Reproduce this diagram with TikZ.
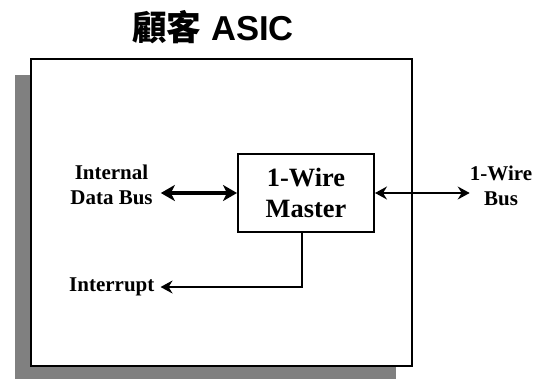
\documentclass[tikz,border=0pt]{standalone}
\usepackage{fontspec}
\setmainfont{Liberation Serif}
\newfontfamily\titlesans{Liberation Sans}
\newfontfamily\cjk{Noto Sans CJK TC}
\usepackage{xcolor}
\usepackage{tikz}
\usetikzlibrary{positioning, arrows.meta, calc, shadows}

\definecolor{shadowgray}{HTML}{808080}

\begin{document}
\begin{tikzpicture}[
        x=1pt, y=-1pt,
        >=Stealth, % Arrowhead style
        heading/.style={font=\fontsize{34.6}{40}\selectfont\bfseries\titlesans, inner sep=0pt},
        asic/.style={draw, line width=2pt, fill=white, minimum width=381pt, minimum height=307pt,
            drop shadow={shadow xshift=-16pt, shadow yshift=-16pt, fill=shadowgray, opacity=1}},
        master/.style={draw, line width=2pt, fill=white, minimum width=136pt, minimum height=78pt,
            align=center, font=\fontsize{26.4}{31}\selectfont\bfseries},
        signal/.style={align=center, inner sep=0pt, font=\fontsize{21}{25}\selectfont\bfseries},
        thin/.style={line width=1.6pt, arrows={-Stealth[length=12pt, width=13pt, inset=4pt]}},
        thinboth/.style={line width=1.6pt, arrows={Stealth[length=12pt, width=13pt, inset=4pt]-Stealth[length=12pt, width=13pt, inset=4pt]}},
        bus/.style={line width=4.5pt, arrows={Stealth[length=14pt, width=16pt, inset=4pt]-Stealth[length=14pt, width=16pt, inset=4pt]}}
    ]
    \useasboundingbox (0,0) rectangle (537,378);

    % ==========================================
    % Nodes Placement
    % ==========================================
    \node[heading] (title) at (213,27) {{\cjk 顧客} ASIC};
    \node[asic] (chip) at (221.5,212.5) {};
    \node[master] (wm) at (306,193) {1-Wire\\Master};

    \node[signal, inner xsep=8pt] (databus) at (111.5,185) {Internal\\Data Bus};
    \node[signal, inner xsep=6pt] (irq) at (111.8,287) {Interrupt};
    \node[signal] (wirebus) at (501,186) {1-Wire\\Bus};

    % ==========================================
    % Connections
    % ==========================================
    \draw[bus] (databus.east |- wm.west) -- (wm.west);
    \draw[thinboth] (wm.east) -- (wirebus.west |- wm.east);
    \draw[thin] ([xshift=-4pt]wm.south) |- (irq.east);

    \end{tikzpicture}
\end{document}
